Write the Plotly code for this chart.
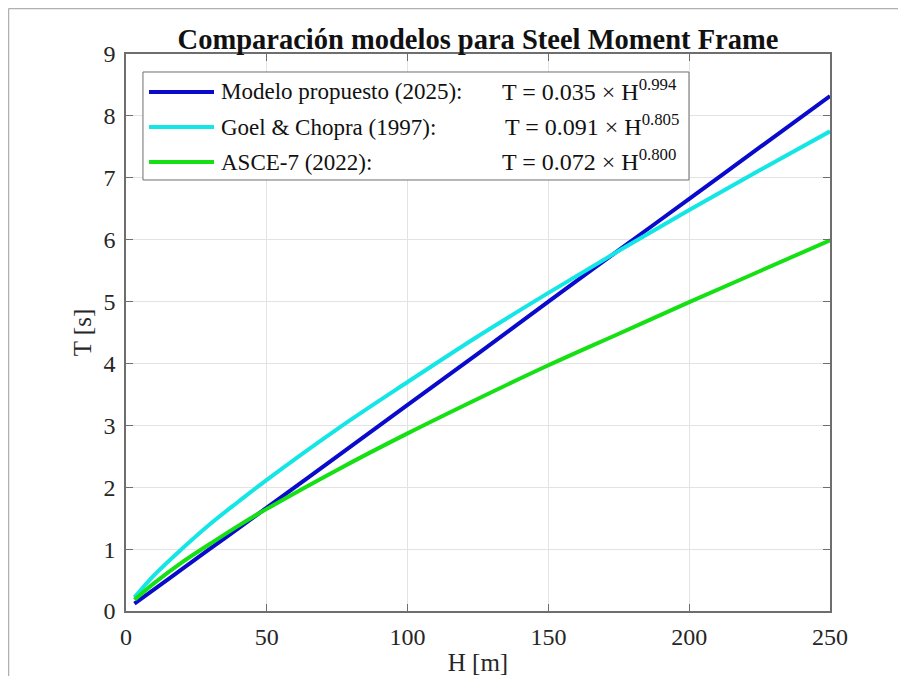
import plotly.graph_objects as go

# alturas H [m] y periodos T [s]
H = [3, 10, 20, 30, 40, 50, 75, 100, 125, 150, 175, 200, 225, 250]
T_propuesto = [0.12, 0.35, 0.68, 1.01, 1.34, 1.67, 2.50, 3.33, 4.16, 5.00, 5.83, 6.66, 7.49, 8.32]
T_goel = [0.22, 0.58, 1.01, 1.41, 1.77, 2.12, 2.94, 3.70, 4.44, 5.14, 5.82, 6.48, 7.12, 7.75]
T_asce = [0.18, 0.45, 0.79, 1.09, 1.38, 1.65, 2.28, 2.87, 3.43, 3.97, 4.48, 4.99, 5.49, 5.99]

nombres = ["Modelo propuesto (2025):", "Goel & Chopra (1997):", "ASCE-7 (2022):"]
formulas = ["T = 0.035 × H<sup>0.994</sup>", "T = 0.091 × H<sup>0.805</sup>", "T = 0.072 × H<sup>0.800</sup>"]
colores = ["#0a0acc", "#14e6e6", "#14e014"]

x_ticks = [0, 50, 100, 150, 200, 250]
y_ticks = list(range(0, 10))

fuente = "Liberation Serif, Times New Roman, serif"
gris = "#6e6e6e"

fig = go.Figure()

for i, serie in enumerate([T_propuesto, T_goel, T_asce]):
    fig.add_trace(go.Scatter(
        x=H, y=serie, mode="lines", name=nombres[i],
        line=dict(color=colores[i], width=4, shape="spline"),
    ))

# leyenda dibujada a mano (caja, muestras, nombres y formulas)
fig.add_shape(type="rect", xref="paper", yref="paper",
              x0=0.0241, x1=0.7997, y0=0.7738, y1=0.9677,
              line=dict(color=gris, width=1), fillcolor="white", layer="above")
filas = [0.9318, 0.8689, 0.8061]
for i in range(3):
    fig.add_shape(type="line", xref="paper", yref="paper",
                  x0=0.0327, x1=0.125, y0=filas[i], y1=filas[i],
                  line=dict(color=colores[i], width=4), layer="above")
    fig.add_annotation(x=0.1321, y=filas[i], xref="paper", yref="paper", text=nombres[i],
                       showarrow=False, xanchor="left", yanchor="middle",
                       font=dict(family=fuente, size=23, color="#111"))
    fig.add_annotation(x=0.531 + (0.004 if i == 1 else 0), y=filas[i] + 0.004,
                       xref="paper", yref="paper", text=formulas[i], showarrow=False,
                       xanchor="left", yanchor="middle",
                       font=dict(family=fuente, size=24, color="#111"))

# marco exterior (borde izquierdo y superior)
fig.add_shape(type="line", xref="paper", yref="paper", x0=-0.1669, x1=1.2, y0=1.0817, y1=1.0817,
              line=dict(color="#b0b0b0", width=1.5))
fig.add_shape(type="line", xref="paper", yref="paper", x0=-0.1669, x1=-0.1669, y0=1.0817, y1=-0.2,
              line=dict(color="#b0b0b0", width=1.5))

# la pagina deja 8 px de margen, por eso el lienzo es 890x668
fig.update_layout(
    width=890, height=668,
    margin=dict(l=118, r=68, t=46, b=65, autoexpand=False),
    plot_bgcolor="white", paper_bgcolor="white",
    title=dict(text="<b>Comparación modelos para Steel Moment Frame</b>",
               x=0.5, xref="paper", xanchor="center", y=1 - 31 / 668, yanchor="middle",
               font=dict(family=fuente, size=28.5, color="#111")),
    font=dict(family=fuente, size=24, color="#262626"),
    showlegend=False,
    xaxis=dict(range=[0, 250], tickvals=x_ticks, showgrid=True, gridcolor="#e3e3e3",
               showline=True, linecolor=gris, linewidth=1.5, mirror="ticks",
               ticks="inside", ticklen=7, tickcolor=gris, zeroline=False,
               ticklabelstandoff=3,
               title=dict(text="H [m]", standoff=17, font=dict(size=25))),
    yaxis=dict(range=[0, 9], tickvals=y_ticks, showgrid=True, gridcolor="#e3e3e3",
               showline=True, linecolor=gris, linewidth=1.5, mirror="ticks",
               ticks="inside", ticklen=7, tickcolor=gris, zeroline=False,
               ticklabelstandoff=4,
               title=dict(text="T [s]", standoff=5, font=dict(size=25))),
)

fig.write_html("out.html")
